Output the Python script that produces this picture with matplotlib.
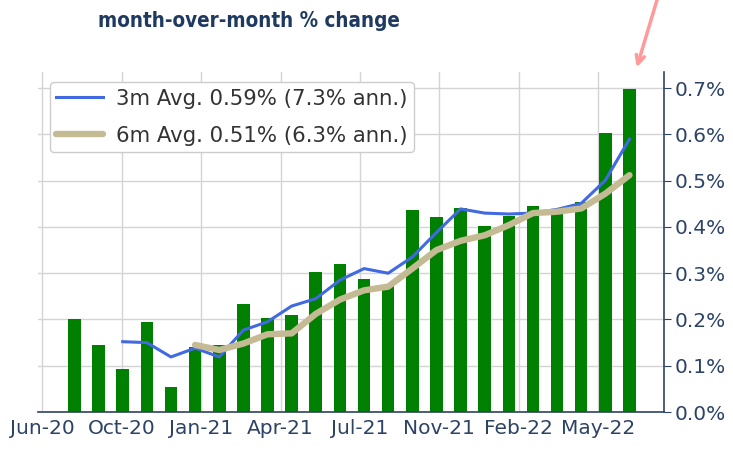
import matplotlib
matplotlib.use("Agg")
import matplotlib.pyplot as plt
import numpy as np

# ---- data ----
months = ["Jul-20", "Aug-20", "Sep-20", "Oct-20", "Nov-20", "Dec-20",
          "Jan-21", "Feb-21", "Mar-21", "Apr-21", "May-21", "Jun-21",
          "Jul-21", "Aug-21", "Sep-21", "Oct-21", "Nov-21", "Dec-21",
          "Jan-22", "Feb-22", "Mar-22", "Apr-22", "May-22", "Jun-22"]
mom = [0.200, 0.145, 0.094, 0.195, 0.053, 0.140, 0.145, 0.233, 0.204, 0.210,
       0.302, 0.320, 0.288, 0.275, 0.436, 0.422, 0.441, 0.403, 0.424, 0.445,
       0.435, 0.454, 0.603, 0.698]
avg3 = [np.nan, np.nan, 0.152, 0.150, 0.119, 0.138, 0.119, 0.177, 0.195, 0.229,
        0.245, 0.285, 0.310, 0.300, 0.335, 0.388, 0.439, 0.430, 0.428, 0.430,
        0.438, 0.451, 0.501, 0.590]
avg6 = [np.nan, np.nan, np.nan, np.nan, np.nan, 0.145, 0.134, 0.148, 0.168, 0.170,
        0.212, 0.243, 0.263, 0.271, 0.310, 0.350, 0.370, 0.382, 0.404, 0.430,
        0.433, 0.440, 0.472, 0.512]
tick_labels = ["Jun-20", "Oct-20", "Jan-21", "Apr-21", "Jul-21", "Nov-21", "Feb-22", "May-22"]
y_ticks = [0.0, 0.1, 0.2, 0.3, 0.4, 0.5, 0.6, 0.7]
label3 = "3m Avg. 0.59% (7.3% ann.)"
label6 = "6m Avg. 0.51% (6.3% ann.)"
title = "month-over-month % change"

W, H = 733, 455
fig = plt.figure(figsize=(W / 100, H / 100), dpi=100)
ax = fig.add_axes([38 / W, 1 - 412 / H, (664 - 38) / W, (412 - 72) / H])

x = np.arange(len(months))
navy = "#2d4366"
fs = 14.5

ax.bar(x, mom, width=0.52, color="#008000", zorder=2)
ax.plot(x, avg3, color="#4169e1", lw=2.2, zorder=3, label=label3)
ax.plot(x, avg6, color="#c4ba94", lw=4.6, zorder=3, label=label6,
        solid_capstyle="round")

ax.set_xlim(-1.51, 24.43)
ax.set_ylim(0, 0.735)

tick_pos = -1.33 + 3.29 * np.arange(len(tick_labels))
ax.set_xticks(tick_pos)
ax.set_xticklabels(tick_labels, fontsize=fs, color=navy)
ax.tick_params(axis="x", length=0, pad=5)

ax.yaxis.tick_right()
ax.set_yticks(y_ticks)
ax.set_yticklabels(["%.1f%%" % v for v in y_ticks], fontsize=fs, color=navy)
ax.tick_params(axis="y", length=5, color=navy, pad=3)

ax.grid(True, color="#d4d4d4", lw=1, zorder=0)
ax.set_axisbelow(True)
for s in ["left", "top"]:
    ax.spines[s].set_visible(False)
for s in ["bottom", "right"]:
    ax.spines[s].set_color(navy)
    ax.spines[s].set_linewidth(1.2)

leg = ax.legend(loc="upper left", fontsize=15.3, handlelength=2.2,
                bbox_to_anchor=(0.019, 0.97), borderaxespad=0,
                framealpha=1, edgecolor="#cccccc",
                labelcolor="#333333", borderpad=0.3, labelspacing=0.8,
                handletextpad=0.6)

fig.text(249 / W, 1 - 21 / H, title, ha="center", va="center",
         fontsize=14.8, fontweight="bold", color="#1f3a60",
         family="DejaVu Sans", fontstretch="condensed")

ax.annotate("", xy=(636 / W, 1 - 70 / H), xycoords="figure fraction",
            xytext=(666 / W, 1 + 30 / H), textcoords="figure fraction",
            arrowprops=dict(arrowstyle="->", color="#ff9a9a", lw=2.5,
                            mutation_scale=15))

fig.savefig("out.png", dpi=100)
